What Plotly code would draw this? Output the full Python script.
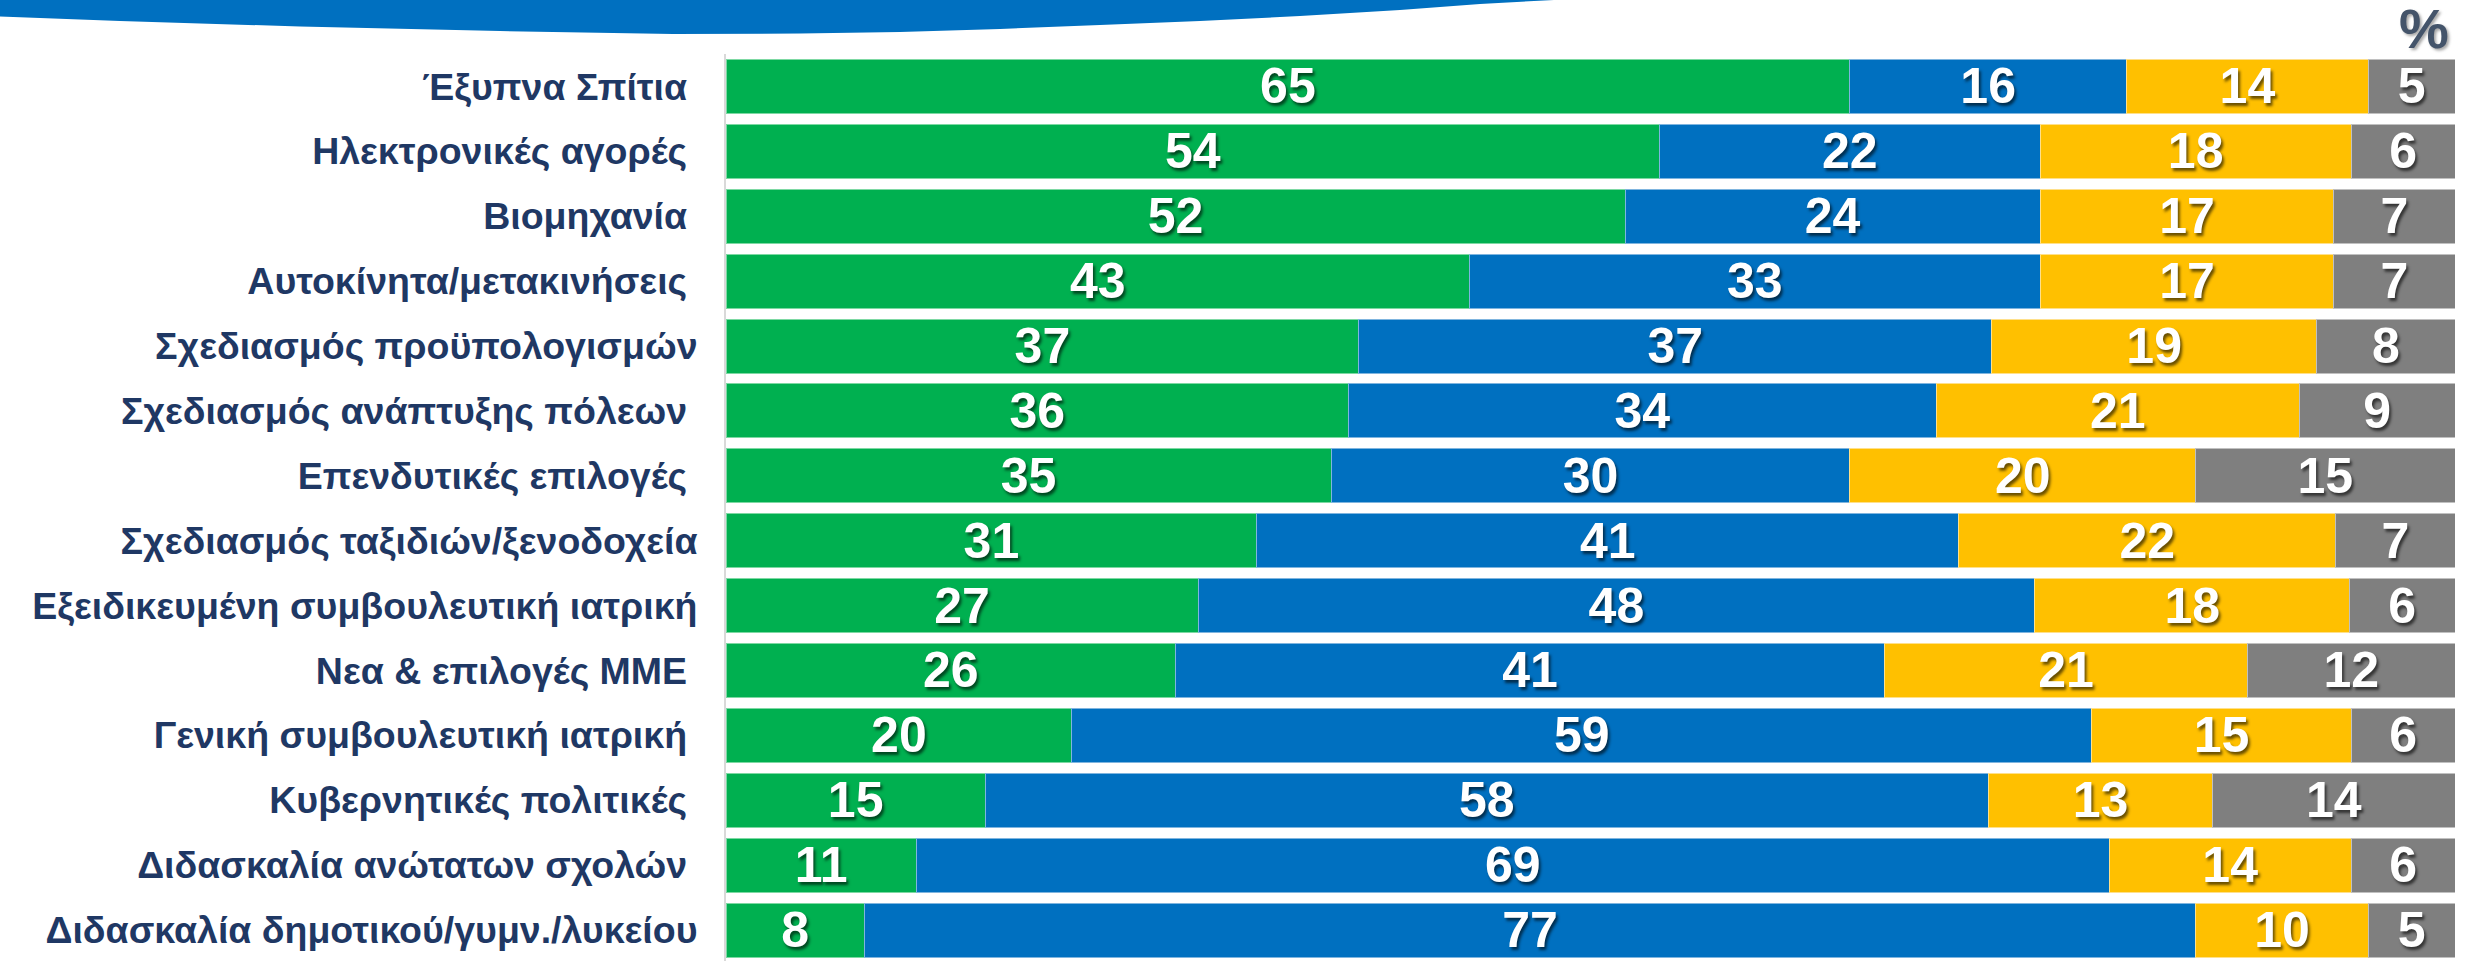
import plotly.graph_objects as go

categories = [
    "Έξυπνα Σπίτια\u00a0",
    "Ηλεκτρονικές αγορές\u00a0",
    "Βιομηχανία\u00a0",
    "Αυτοκίνητα/μετακινήσεις\u00a0",
    "Σχεδιασμός προϋπολογισμών",
    "Σχεδιασμός ανάπτυξης πόλεων\u00a0",
    "Επενδυτικές επιλογές\u00a0",
    "Σχεδιασμός ταξιδιών/ξενοδοχεία",
    "Εξειδικευμένη συμβουλευτική ιατρική",
    "Νεα & επιλογές ΜΜΕ\u00a0",
    "Γενική συμβουλευτική ιατρική\u00a0",
    "Κυβερνητικές πολιτικές\u00a0",
    "Διδασκαλία ανώτατων σχολών\u00a0",
    "Διδασκαλία δημοτικού/γυμν./λυκείου",
]
green_vals = [65, 54, 52, 43, 36.6, 36, 35, 30.7, 27.3, 26, 20, 15, 11, 8]
blue_vals = [16, 22, 24, 33, 36.6, 34, 30, 40.6, 48.4, 41, 59, 58, 69, 77]
yellow_vals = [14, 18, 17, 17, 18.8, 21, 20, 21.8, 18.2, 21, 15, 13, 14, 10]
grey_vals = [5, 6, 7, 7, 8.0, 9, 15, 6.9, 6.1, 12, 6, 14, 6, 5]

series = [
    (green_vals, "#00B050", "#7DD9A3"),
    (blue_vals, "#0070C0", "#7FB5DF"),
    (yellow_vals, "#FFC000", "#FFE08A"),
    (grey_vals, "#7F7F7F", "#C0C0C0"),
]

W, H = 2475, 961
L, R, T, B = 726, 20, 54, 0
pw, ph = W - L - R, H - T - B

fig = go.Figure()
for vals, col, edge in series:
    fig.add_trace(go.Bar(
        y=categories, x=vals, orientation="h",
        marker=dict(color=col, line=dict(color=edge, width=1)),
        texttemplate="%{x:.0f}", textposition="inside",
        insidetextanchor="middle", textangle=0, constraintext="none",
        textfont=dict(family="Liberation Sans, Arial", size=50, color="white",
                      weight=700, shadow="2px 3px 3px rgba(0,0,0,0.6)"),
        hoverinfo="skip", showlegend=False,
    ))

# decorative swoosh at top (pixel points -> paper coords)
sw = [(0, 16.5), (120, 21), (300, 26.5), (500, 31), (673, 34), (800, 33.5),
      (900, 32), (1000, 29), (1100, 25), (1200, 21), (1300, 16), (1400, 10),
      (1480, 4), (1554, 0)]
def px(x):
    return (x - L) / pw
def py(y):
    return 1 - (y - T) / ph
path = f"M {px(-2)},{py(-2)} L {px(-2)},{py(16.5)} " + " ".join(f"L {px(x)},{py(y)}" for x, y in sw) + f" L {px(1554)},{py(-2)} Z"
fig.add_shape(type="path", path=path, xref="paper", yref="paper",
              fillcolor="#0070C0", line=dict(width=0), layer="above")

fig.add_annotation(text="%", xref="paper", yref="paper", x=px(2451), y=py(62),
                   xanchor="right", yanchor="bottom", showarrow=False,
                   font=dict(family="Liberation Sans, Arial", size=56, color="#44546A",
                             weight=700, shadow="2px 2px 3px rgba(0,0,0,0.35)"))

fig.update_layout(
    barmode="stack", bargap=0.168,
    width=W, height=H,
    margin=dict(l=L, r=R, t=T, b=B, pad=0),
    paper_bgcolor="white", plot_bgcolor="white",
    xaxis=dict(range=[0, 100], visible=False, fixedrange=True),
    yaxis=dict(
        autorange=False, range=[(H - 86.3) / 64.9, -0.5],
        showline=True, linecolor="#D9D9D9", linewidth=2,
        showgrid=False, zeroline=False, ticks="",
        ticklabelstandoff=19,
        tickfont=dict(family="Liberation Sans, Arial", size=37.5, color="#1F3864", weight=700),
    ),
)

fig.write_html("out.html", config={"displayModeBar": False},
               post_script="document.body.style.margin='0';document.body.style.overflow='hidden';")
